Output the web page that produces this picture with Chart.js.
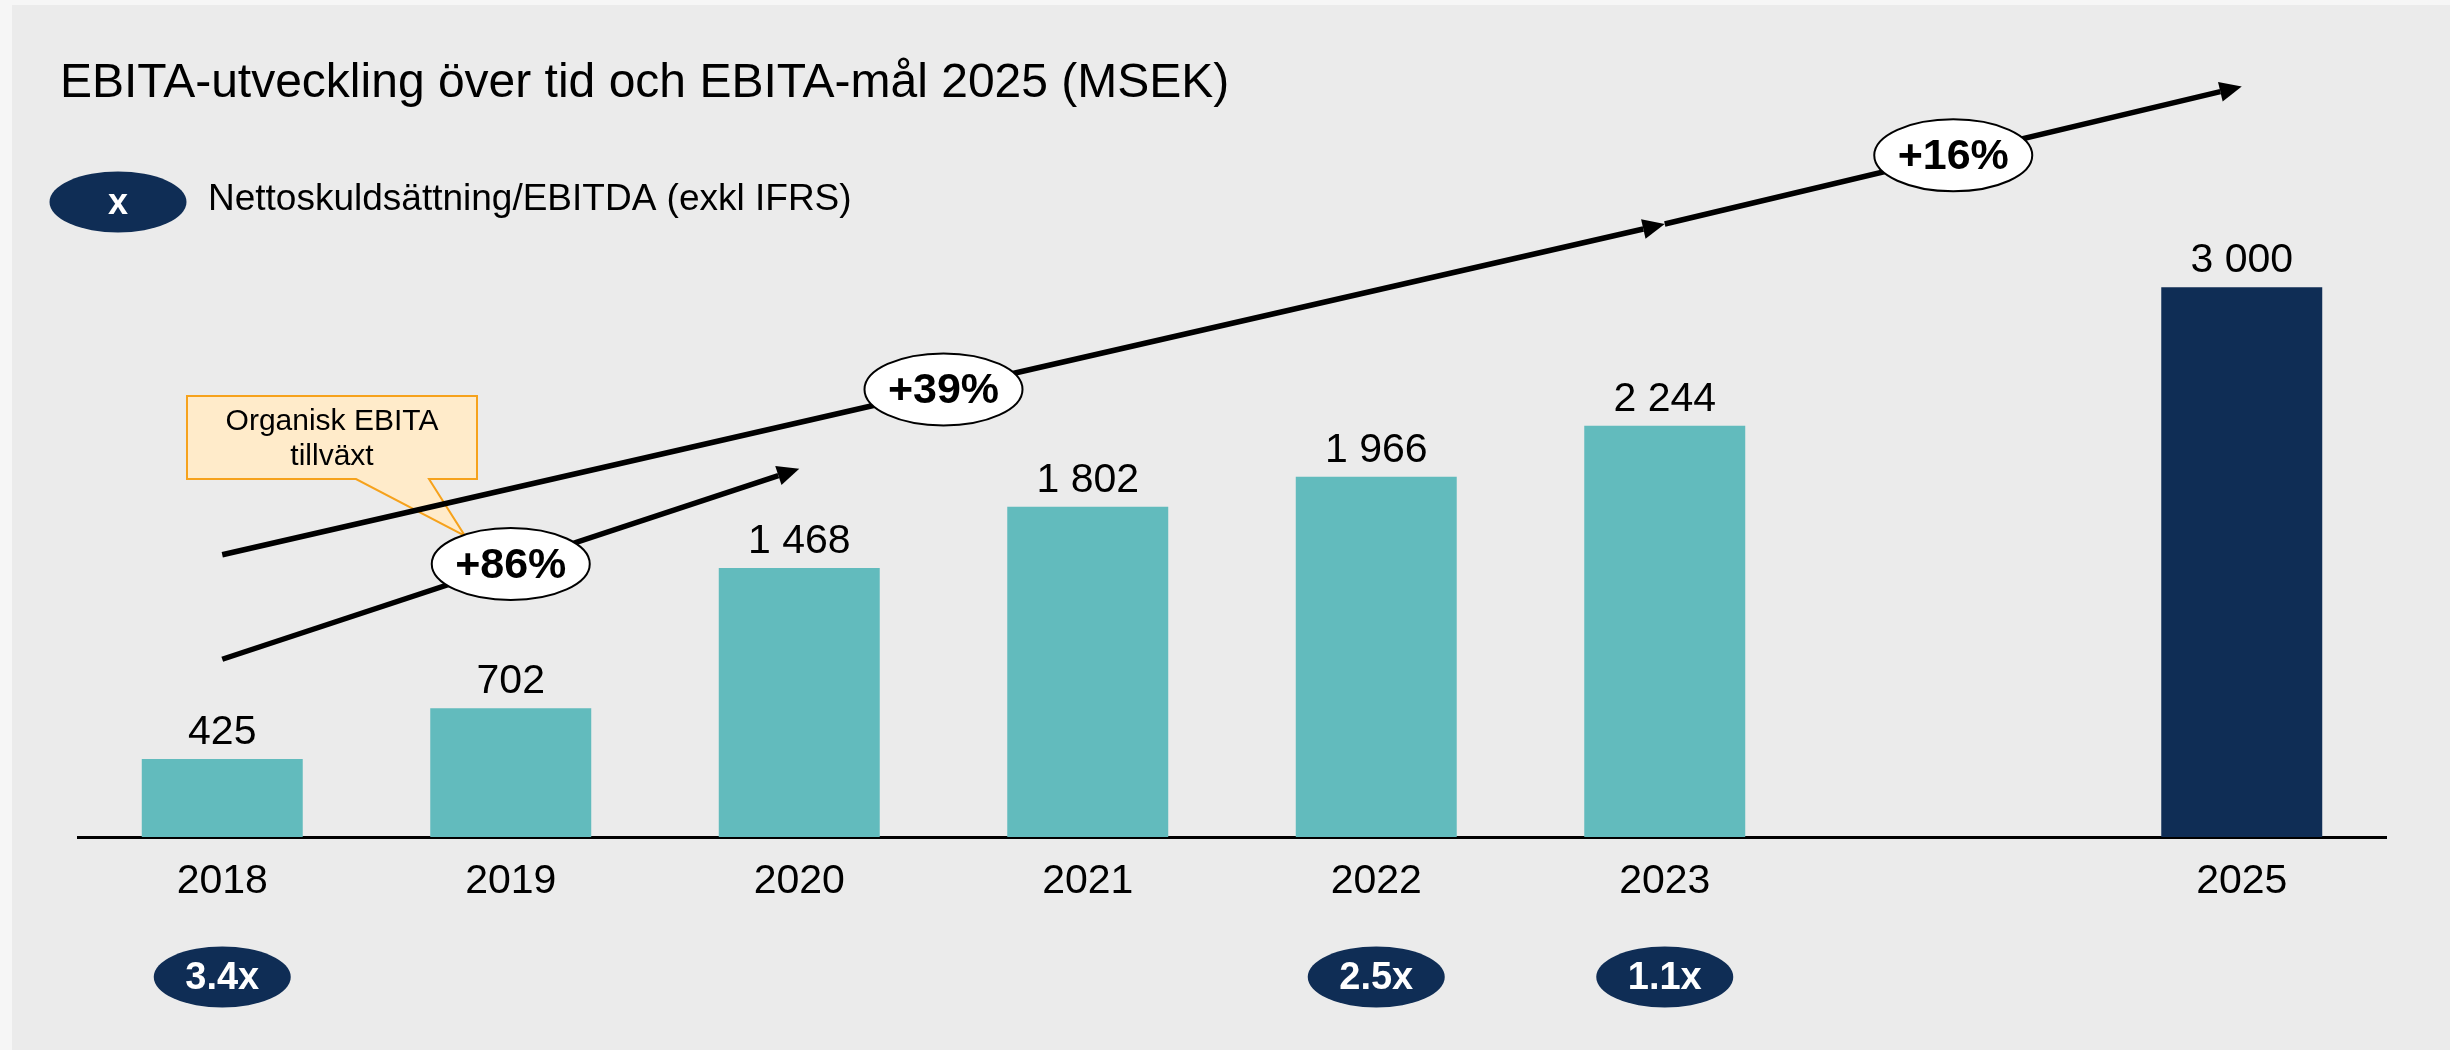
<!DOCTYPE html>
<html lang="sv">
<head>
<meta charset="UTF-8">
<title>EBITA-utveckling</title>
<script src="https://cdn.jsdelivr.net/npm/chart.js"></script>
<style>
  html, body { margin: 0; padding: 0; background: #f6f6f6; }
  #wrap { width: 2450px; height: 1050px; }
</style>
</head>
<body>
<div id="wrap"><canvas id="ebitaChart" width="2450" height="1050"></canvas></div>

<script>
var years = ['2018', '2019', '2020', '2021', '2022', '2023', '', '2025'];
var ebita = [425, 702, 1468, 1802, 1966, 2244, null, 3000];
var leverage = ['3.4x', null, null, null, '2.5x', '1.1x', null, null];

// growth arrows: start/end as [category index, EBITA level]
var growthLabels = ['+86%', '+39%', '+16%'];
var growthFrom = [[0, 970], [0, 1540], [5, 3345]];
var growthTo = [[2, 2010], [5, 3345], [7, 4095]];

var TEAL = '#62bbbd';
var NAVY = '#0f2d55';
var FONT = '"Liberation Sans", Arial, sans-serif';

var barColors = ebita.map(function (v, i) {
    return years[i] === '2025' ? NAVY : TEAL;
});

function fmt(v) {
    return String(v).replace(/\B(?=(\d{3})+(?!\d))/g, ' ');
}

function ellipse(ctx, cx, cy, w, h, fill, stroke) {
    ctx.beginPath();
    ctx.ellipse(cx, cy, w / 2, h / 2, 0, 0, Math.PI * 2);
    ctx.fillStyle = fill;
    ctx.fill();
    if (stroke) {
        ctx.lineWidth = 2;
        ctx.strokeStyle = stroke;
        ctx.stroke();
    }
}

function arrow(ctx, x1, y1, x2, y2) {
    var ang = Math.atan2(y2 - y1, x2 - x1);
    var len = 22, half = 10;
    var bx = x2 - Math.cos(ang) * len, by = y2 - Math.sin(ang) * len;
    ctx.beginPath();
    ctx.moveTo(x1, y1);
    ctx.lineTo(bx, by);
    ctx.lineWidth = 5.5;
    ctx.strokeStyle = '#000';
    ctx.stroke();
    ctx.beginPath();
    ctx.moveTo(x2, y2);
    ctx.lineTo(bx - Math.sin(ang) * half, by + Math.cos(ang) * half);
    ctx.lineTo(bx + Math.sin(ang) * half, by - Math.cos(ang) * half);
    ctx.closePath();
    ctx.fillStyle = '#000';
    ctx.fill();
}

var backdrop = {
    id: 'backdrop',
    beforeDraw: function (chart) {
        var ctx = chart.ctx;
        ctx.save();
        ctx.fillStyle = '#f6f6f6';
        ctx.fillRect(0, 0, chart.width, chart.height);
        ctx.fillStyle = '#ebebeb';
        ctx.fillRect(12, 5, chart.width - 12, chart.height - 5);
        ctx.restore();
    }
};

var annotations = {
    id: 'annotations',
    afterDraw: function (chart) {
        var ctx = chart.ctx;
        var xs = chart.scales.x, ys = chart.scales.y;
        ctx.save();

        // value labels above bars
        ctx.font = '41px ' + FONT;
        ctx.fillStyle = '#000';
        ctx.textAlign = 'center';
        ctx.textBaseline = 'alphabetic';
        chart.getDatasetMeta(0).data.forEach(function (bar, i) {
            if (ebita[i] == null) return;
            ctx.fillText(fmt(ebita[i]), bar.x, bar.y - 15);
        });

        // title + legend
        ctx.textAlign = 'left';
        ctx.font = '48px ' + FONT;
        ctx.fillText('EBITA-utveckling över tid och EBITA-mål 2025 (MSEK)', 60, 97);
        ellipse(ctx, 118, 202, 137, 61, NAVY);
        ctx.fillStyle = '#fff';
        ctx.font = 'bold 36px ' + FONT;
        ctx.textAlign = 'center';
        ctx.textBaseline = 'middle';
        ctx.fillText('x', 118, 204);
        ctx.fillStyle = '#000';
        ctx.textAlign = 'left';
        ctx.textBaseline = 'alphabetic';
        ctx.font = '37px ' + FONT;
        ctx.fillText('Nettoskuldsättning/EBITDA (exkl IFRS)', 208, 210);

        // leverage ovals under the axis
        leverage.forEach(function (t, i) {
            if (!t) return;
            var cx = xs.getPixelForValue(i);
            ellipse(ctx, cx, 977, 137, 61, NAVY);
            ctx.fillStyle = '#fff';
            ctx.font = 'bold 38px ' + FONT;
            ctx.textAlign = 'center';
            ctx.textBaseline = 'middle';
            ctx.fillText(t, cx, 979);
        });

        // callout box
        ctx.beginPath();
        ctx.moveTo(187, 396);
        ctx.lineTo(477, 396);
        ctx.lineTo(477, 479);
        ctx.lineTo(429, 479);
        ctx.lineTo(465, 536);
        ctx.lineTo(356, 479);
        ctx.lineTo(187, 479);
        ctx.closePath();
        ctx.fillStyle = '#ffebca';
        ctx.fill();
        ctx.lineWidth = 2;
        ctx.strokeStyle = '#f6a21c';
        ctx.stroke();
        ctx.fillStyle = '#000';
        ctx.font = '30px ' + FONT;
        ctx.textAlign = 'center';
        ctx.textBaseline = 'middle';
        ctx.fillText('Organisk EBITA', 332, 422);
        ctx.fillText('tillväxt', 332, 457);

        // growth arrows with ellipses at their midpoints
        var pts = growthFrom.map(function (f, k) {
            var t = growthTo[k];
            return [xs.getPixelForValue(f[0]), ys.getPixelForValue(f[1]),
                    xs.getPixelForValue(t[0]), ys.getPixelForValue(t[1])];
        });
        pts.forEach(function (p) { arrow(ctx, p[0], p[1], p[2], p[3]); });
        pts.forEach(function (p, k) {
            var mx = (p[0] + p[2]) / 2, my = (p[1] + p[3]) / 2;
            ellipse(ctx, mx, my, 158, 72, '#fff', '#000');
            ctx.fillStyle = '#000';
            ctx.font = 'bold 43px ' + FONT;
            ctx.textAlign = 'center';
            ctx.textBaseline = 'middle';
            ctx.fillText(growthLabels[k], mx, my + 2);
        });

        ctx.restore();
    }
};

var ctx = document.getElementById('ebitaChart').getContext('2d');
var ebitaChart = new Chart(ctx, {
    type: 'bar',
    data: {
        labels: years,
        datasets: [{
            label: 'EBITA',
            data: ebita,
            backgroundColor: barColors,
            borderWidth: 0,
            categoryPercentage: 1,
            barPercentage: 0.558
        }]
    },
    options: {
        responsive: false,
        animation: false,
        events: [],
        layout: { padding: { left: 78, right: 64, top: 104, bottom: 0 } },
        plugins: {
            legend: { display: false },
            tooltip: { enabled: false }
        },
        scales: {
            x: {
                grid: { display: false, drawTicks: false },
                border: { display: true, color: '#000', width: 3 },
                ticks: {
                    color: '#000',
                    padding: 20,
                    font: { family: FONT, size: 41 }
                },
                afterFit: function (scale) { scale.height = 213; }
            },
            y: {
                display: false,
                min: 0,
                max: 4000
            }
        }
    },
    plugins: [backdrop, annotations]
});
</script>
</body>
</html>
